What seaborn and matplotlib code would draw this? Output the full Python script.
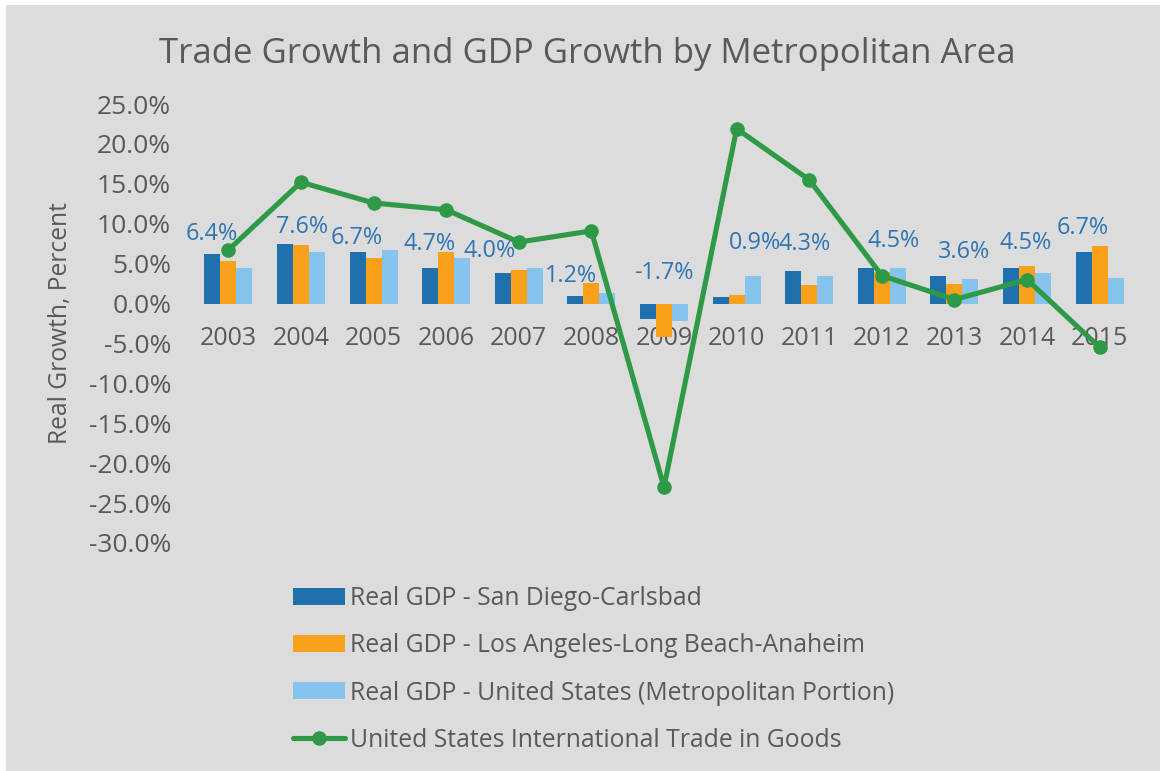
import numpy as np
import pandas as pd
import seaborn as sns
import matplotlib.pyplot as plt
from matplotlib.patches import Rectangle

# data (percent growth)
years = ['2003', '2004', '2005', '2006', '2007', '2008', '2009',
         '2010', '2011', '2012', '2013', '2014', '2015']
gdp_sd = [6.25, 7.4, 6.5, 4.5, 3.8, 1.0, -1.9, 0.8, 4.1, 4.4, 3.5, 4.4, 6.5]
gdp_la = [5.3, 7.3, 5.7, 6.45, 4.25, 2.6, -4.2, 1.05, 2.3, 4.0, 2.5, 4.7, 7.25]
gdp_us = [4.5, 6.4, 6.75, 5.7, 4.4, 1.3, -2.2, 3.45, 3.5, 4.5, 3.1, 3.8, 3.2]
trade_us = [6.7, 15.2, 12.6, 11.75, 7.7, 9.1, -23.0, 21.9, 15.5, 3.5, 0.5, 3.0, -5.5]
sd_labels = ['6.4%', '7.6%', '6.7%', '4.7%', '4.0%', '1.2%', '-1.7%',
             '0.9%', '4.3%', '4.5%', '3.6%', '4.5%', '6.7%']
series_names = ['Real GDP - San Diego-Carlsbad',
                'Real GDP - Los Angeles-Long Beach-Anaheim',
                'Real GDP - United States (Metropolitan Portion)']
trade_name = 'United States International Trade in Goods'
yticks = [25, 20, 15, 10, 5, 0, -5, -10, -15, -20, -25, -30]

# label nudges in pixels (dx from bar centre, dy above bar top) - hand placed like the original
lab_dx = [-1, 17, -1, -1, -13, -4, 16, 34, 11, 28, 26, 15, -1]
lab_dy = [20, 17, 14, 24, 22, 20, 31, 54, 27, 27, 24, 25, 24]

grey = '#595959'
colors = ['#2170ae', '#f9a11b', '#86c4ee']
green = '#2e9a48'

df = pd.DataFrame({
    'year': years * 3,
    'series': [series_names[0]] * 13 + [series_names[1]] * 13 + [series_names[2]] * 13,
    'value': gdp_sd + gdp_la + gdp_us,
})

sns.set_style('white')
plt.rcParams['font.family'] = ['Open Sans', 'DejaVu Sans']

fig = plt.figure(figsize=(11.6, 7.71), dpi=100, facecolor='white')
fig.patches.append(Rectangle((6 / 1160, 0), 1, (771 - 5) / 771, transform=fig.transFigure,
                             facecolor='#dcdcdc', edgecolor='none', zorder=-10))
ax = fig.add_axes([192 / 1160, (771 - 543) / 771, 944 / 1160, 439 / 771])
ax.set_facecolor('none')

sns.barplot(data=df, x='year', y='value', hue='series', palette=colors,
            width=0.66, saturation=1, linewidth=0, ax=ax, zorder=2)

x = np.arange(len(years))
sns.lineplot(x=x, y=trade_us, color=green, linewidth=3.7, marker='o', markersize=10.5,
             markeredgewidth=0, ax=ax, zorder=3, legend=False)
trade_line = ax.lines[-1]

# blue data labels over the San Diego bars
px = 72 / 100
for i, bar in enumerate(ax.containers[0]):
    bx = bar.get_x() + bar.get_width() / 2
    top = max(gdp_sd[i], 0)
    ax.annotate(sd_labels[i], (bx, top), xytext=(lab_dx[i] * px, lab_dy[i] * px),
                textcoords='offset points', ha='center', va='center',
                fontsize=16.8, color='#2e75b6', zorder=4)

ax.set_ylim(-30, 25)
ax.set_xlim(-0.5, len(years) - 0.5)
ax.set_yticks(yticks)
ax.set_yticklabels([f'{v:.1f}%' for v in yticks])
ax.tick_params(axis='y', length=0, pad=15, labelsize=19, labelcolor=grey)
ax.tick_params(axis='x', length=0, pad=16, labelsize=18, labelcolor=grey)
ax.spines['bottom'].set_position(('data', 0))
for s in ax.spines.values():
    s.set_visible(False)
ax.set_xlabel('')
ax.set_ylabel('Real Growth, Percent', fontsize=17.7, color=grey, labelpad=11)

fig.text(587 / 1160, (771 - 54) / 771, 'Trade Growth and GDP Growth by Metropolitan Area',
         ha='center', va='center', fontsize=25, color=grey)

leg = ax.get_legend()
handles = list(leg.legend_handles) + [trade_line]
labels = [t.get_text() for t in leg.get_texts()] + [trade_name]
leg.remove()
fig.legend(handles, labels, loc='upper left', bbox_to_anchor=(293 / 1160, (771 - 586) / 771),
           frameon=False, fontsize=17.8, labelcolor=grey, borderpad=0, borderaxespad=0,
           handlelength=2.1, handleheight=0.69, handletextpad=0.2, labelspacing=0.9)

fig.savefig('out.png', dpi=100, facecolor=fig.get_facecolor())
